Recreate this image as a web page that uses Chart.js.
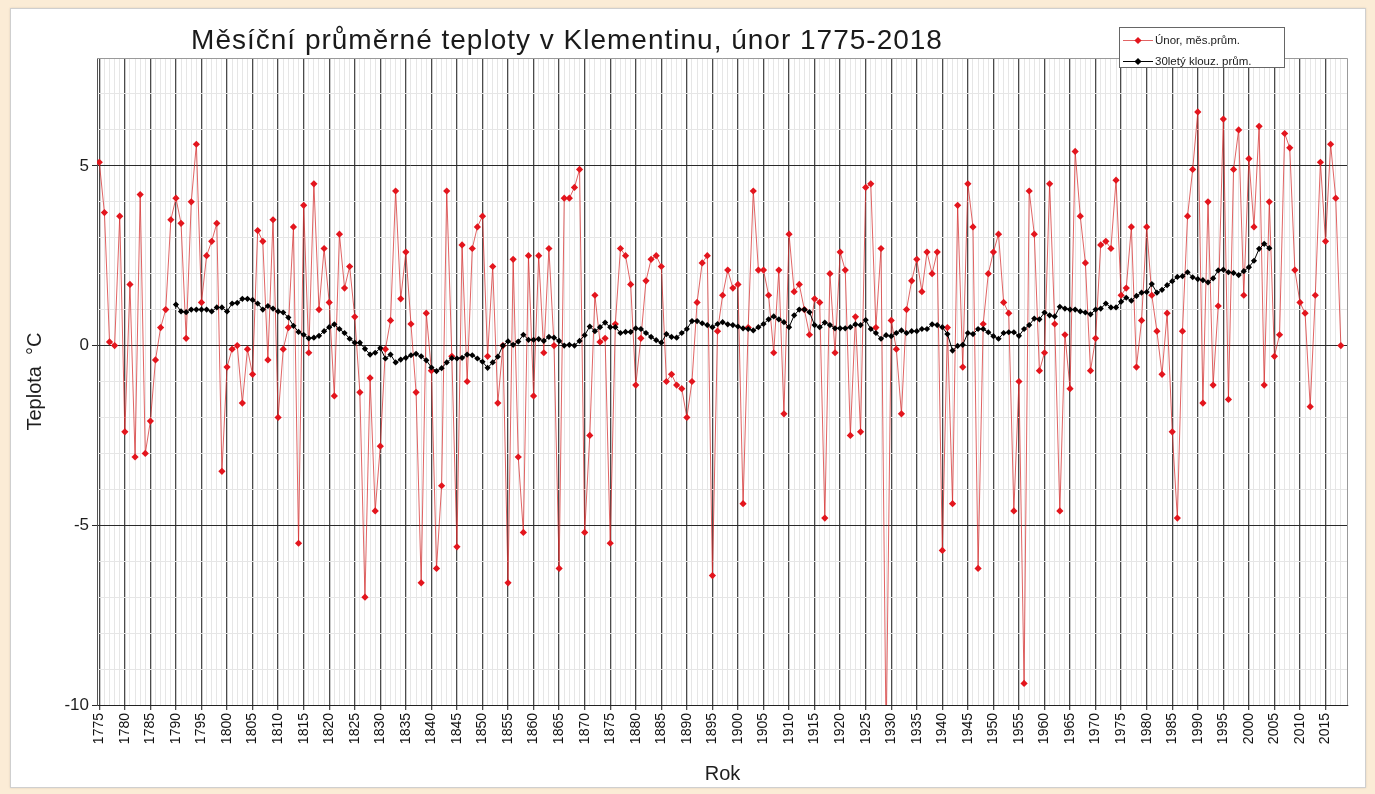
<!DOCTYPE html>
<html><head><meta charset="utf-8">
<script src="https://cdn.jsdelivr.net/npm/chart.js@4.4.1/dist/chart.umd.min.js"></script>
<style>
html,body{margin:0;padding:0;background:#fbecd6;width:1375px;height:794px;overflow:hidden}
#panel{position:absolute;left:10px;top:8px;width:1354px;height:778px;background:#fff;border:1px solid #cfcfcf;box-shadow:0 0 2px rgba(0,0,0,.12)}
#c{position:absolute;left:0;top:0}
</style></head><body>
<div id="panel"></div>
<canvas id="c" width="1375" height="794"></canvas>
<script>
const TITLE = 'Měsíční průměrné teploty v Klementinu, únor 1775-2018';
const firstYear = 1775;
const years = Array.from({length: 244}, (_, i) => firstYear + i);
// February monthly mean temperature, 1775..2018
const febTemps = [
  5.1, 3.7, 0.1, 0.0, 3.6, -2.4, 1.7, -3.1, 4.2, -3.0,
  -2.1, -0.4, 0.5, 1.0, 3.5, 4.1, 3.4, 0.2, 4.0, 5.6,
  1.2, 2.5, 2.9, 3.4, -3.5, -0.6, -0.1, 0.0, -1.6, -0.1,
  -0.8, 3.2, 2.9, -0.4, 3.5, -2.0, -0.1, 0.5, 3.3, -5.5,
  3.9, -0.2, 4.5, 1.0, 2.7, 1.2, -1.4, 3.1, 1.6, 2.2,
  0.8, -1.3, -7.0, -0.9, -4.6, -2.8, -0.1, 0.7, 4.3, 1.3,
  2.6, 0.6, -1.3, -6.6, 0.9, -0.7, -6.2, -3.9, 4.3, -0.3,
  -5.6, 2.8, -1.0, 2.7, 3.3, 3.6, -0.3, 2.2, -1.6, 0.0,
  -6.6, 2.4, -3.1, -5.2, 2.5, -1.4, 2.5, -0.2, 2.7, 0.0,
  -6.2, 4.1, 4.1, 4.4, 4.9, -5.2, -2.5, 1.4, 0.1, 0.2,
  -5.5, 0.6, 2.7, 2.5, 1.7, -1.1, 0.2, 1.8, 2.4, 2.5,
  2.2, -1.0, -0.8, -1.1, -1.2, -2.0, -1.0, 1.2, 2.3, 2.5,
  -6.4, 0.4, 1.4, 2.1, 1.6, 1.7, -4.4, 0.5, 4.3, 2.1,
  2.1, 1.4, -0.2, 2.1, -1.9, 3.1, 1.5, 1.7, 1.0, 0.3,
  1.3, 1.2, -4.8, 2.0, -0.2, 2.6, 2.1, -2.5, 0.8, -2.4,
  4.4, 4.5, 0.5, 2.7, -11.0, 0.7, -0.1, -1.9, 1.0, 1.8,
  2.4, 1.5, 2.6, 2.0, 2.6, -5.7, 0.5, -4.4, 3.9, -0.6,
  4.5, 3.3, -6.2, 0.6, 2.0, 2.6, 3.1, 1.2, 0.9, -4.6,
  -1.0, -9.4, 4.3, 3.1, -0.7, -0.2, 4.5, 0.6, -4.6, 0.3,
  -1.2, 5.4, 3.6, 2.3, -0.7, 0.2, 2.8, 2.9, 2.7, 4.6,
  1.4, 1.6, 3.3, -0.6, 0.7, 3.3, 1.4, 0.4, -0.8, 0.9,
  -2.4, -4.8, 0.4, 3.6, 4.9, 6.5, -1.6, 4.0, -1.1, 1.1,
  6.3, -1.5, 4.9, 6.0, 1.4, 5.2, 3.3, 6.1, -1.1, 4.0,
  -0.3, 0.3, 5.9, 5.5, 2.1, 1.2, 0.9, -1.7, 1.4, 5.1,
  2.9, 5.6, 4.1, 0.0
];
// 30-year running mean, 1790..2004
const maStartYear = 1790;
const maTemps = [
  1.14, 0.95, 0.93, 1.0, 1.0, 1.0, 1.0, 0.95, 1.06, 1.06,
  0.95, 1.17, 1.19, 1.3, 1.3, 1.27, 1.17, 1.0, 1.1, 1.03,
  0.95, 0.92, 0.78, 0.55, 0.38, 0.3, 0.2, 0.22, 0.27, 0.4,
  0.51, 0.59, 0.46, 0.35, 0.19, 0.08, 0.08, -0.09, -0.25, -0.2,
  -0.07, -0.36, -0.25, -0.47, -0.39, -0.34, -0.27, -0.23, -0.3, -0.41,
  -0.61, -0.71, -0.63, -0.47, -0.35, -0.36, -0.34, -0.25, -0.27, -0.36,
  -0.45, -0.62, -0.47, -0.31, 0.0, 0.12, 0.02, 0.11, 0.3, 0.16,
  0.16, 0.18, 0.13, 0.24, 0.22, 0.13, 0.0, 0.02, 0.0, 0.13,
  0.29, 0.53, 0.4, 0.51, 0.64, 0.51, 0.51, 0.35, 0.38, 0.38,
  0.48, 0.46, 0.35, 0.24, 0.15, 0.08, 0.32, 0.24, 0.22, 0.35,
  0.46, 0.68, 0.68, 0.62, 0.57, 0.51, 0.6, 0.65, 0.59, 0.57,
  0.53, 0.48, 0.46, 0.42, 0.51, 0.6, 0.73, 0.81, 0.73, 0.65,
  0.51, 0.84, 1.0, 1.0, 0.93, 0.57, 0.51, 0.64, 0.57, 0.48,
  0.48, 0.48, 0.51, 0.59, 0.57, 0.71, 0.46, 0.35, 0.19, 0.29,
  0.26, 0.35, 0.42, 0.35, 0.4, 0.4, 0.46, 0.46, 0.59, 0.57,
  0.51, 0.32, -0.14, -0.01, 0.02, 0.35, 0.32, 0.46, 0.46, 0.37,
  0.26, 0.19, 0.35, 0.37, 0.37, 0.27, 0.46, 0.57, 0.75, 0.73,
  0.92, 0.84, 0.81, 1.08, 1.03, 1.0, 1.0, 0.95, 0.92, 0.87,
  1.0, 1.03, 1.17, 1.06, 1.06, 1.22, 1.33, 1.25, 1.38, 1.47,
  1.49, 1.71, 1.47, 1.55, 1.68, 1.79, 1.91, 1.93, 2.04, 1.9,
  1.85, 1.82, 1.76, 1.87, 2.09, 2.11, 2.04, 2.02, 1.96, 2.07,
  2.18, 2.36, 2.69, 2.83, 2.71
];
const xTickLabels = ['1775','1780','1785','1790','1795','1800','1805','1810','1815','1820','1825','1830','1835','1840','1845','1850','1855','1860','1865','1870','1875','1880','1885','1890','1895','1900','1905','1910','1915','1920','1925','1930','1935','1940','1945','1950','1955','1960','1965','1970','1975','1980','1985','1990','1995','2000','2005','2010','2015'];
const yTickLabels = [-10, -5, 0, 5];
const yGridValues = [-10,-9,-8,-7,-6,-5,-4,-3,-2,-1,0,1,2,3,4,5,6,7,8];
const seriesNames = ['Únor, měs.prům.', '30letý klouz. prům.'];
const seriesColors = ['#e3151d', '#000000'];
const seriesLineColors = ['rgba(214,40,40,0.72)', '#000000'];

const FONT = '"Liberation Sans", Arial, sans-serif';

function diamond(ctx, x, y, r, color) {
  ctx.beginPath();
  ctx.moveTo(x, y - r); ctx.lineTo(x + r, y); ctx.lineTo(x, y + r); ctx.lineTo(x - r, y);
  ctx.closePath(); ctx.fillStyle = color; ctx.fill();
}

const decor = {
  id: 'decor',
  afterDraw(chart) {
    const ctx = chart.ctx, a = chart.chartArea;
    ctx.save();
    ctx.strokeStyle = '#9a9a9a'; ctx.lineWidth = 1;
    ctx.beginPath();
    ctx.moveTo(a.left, a.top + 0.5); ctx.lineTo(a.right - 0.5, a.top + 0.5); ctx.lineTo(a.right - 0.5, a.bottom);
    ctx.stroke();
    // title
    ctx.font = '28px ' + FONT;
    ctx.fillStyle = '#1a1a1a'; ctx.textAlign = 'center'; ctx.textBaseline = 'alphabetic';
    if ('letterSpacing' in ctx) ctx.letterSpacing = '1px';
    ctx.fillText(TITLE, 567, 49);
    if ('letterSpacing' in ctx) ctx.letterSpacing = '0px';
    // legend
    const lx = 1119, ly = 27, lw = 166, lh = 41;
    ctx.fillStyle = '#ffffff'; ctx.fillRect(lx, ly, lw, lh);
    ctx.strokeStyle = '#666'; ctx.strokeRect(lx + 0.5, ly + 0.5, lw - 1, lh - 1);
    const rows = [40, 61];
    ctx.font = '11.5px ' + FONT; ctx.textAlign = 'left'; ctx.textBaseline = 'middle';
    rows.forEach((ry, i) => {
      ctx.strokeStyle = seriesLineColors[i]; ctx.lineWidth = 1;
      ctx.beginPath(); ctx.moveTo(lx + 4, ry + 0.5); ctx.lineTo(lx + 34, ry + 0.5); ctx.stroke();
      diamond(ctx, lx + 19, ry + 0.5, 3.6, seriesColors[i]);
      ctx.fillStyle = '#1a1a1a';
      ctx.fillText(seriesNames[i], lx + 36, ry + 1);
    });
    ctx.restore();
  }
};

new Chart(document.getElementById('c'), {
  type: 'line',
  data: {
    datasets: [
      {
        label: seriesNames[0],
        data: years.map((yr, i) => ({x: yr, y: febTemps[i]})),
        borderColor: seriesLineColors[0], borderWidth: 1,
        pointStyle: 'rectRot', pointRadius: 3.6, pointBackgroundColor: seriesColors[0],
        pointBorderWidth: 0, tension: 0, order: 2
      },
      {
        label: seriesNames[1],
        data: maTemps.map((v, i) => ({x: maStartYear + i, y: v})),
        borderColor: seriesLineColors[1], borderWidth: 1,
        pointStyle: 'rectRot', pointRadius: 3.1, pointBackgroundColor: seriesColors[1],
        pointBorderWidth: 0, tension: 0, order: 1
      }
    ]
  },
  options: {
    responsive: false, animation: false, devicePixelRatio: 1,
    layout: {padding: {top: 58, right: 27, left: 0, bottom: 0}},
    plugins: {legend: {display: false}, tooltip: {enabled: false}, title: {display: false}},
    scales: {
      x: {
        type: 'linear', min: 1774.55, max: 2019.4,
        afterBuildTicks(s) { s.ticks = years.map(v => ({value: v})); },
        afterFit(s) { s.height = 89; },
        ticks: {
          autoSkip: false, minRotation: 90, maxRotation: 90, padding: 3,
          font: {family: FONT, size: 14}, color: '#111',
          callback: (v) => xTickLabels.includes(String(v)) ? String(v) : ''
        },
        grid: {
          color: (c) => (c.tick && c.tick.value % 5 === 0) ? '#4a4a4a' : '#e6e6e6',
          lineWidth: (c) => (c.tick && c.tick.value % 5 === 0) ? 1.3 : 1,
          tickColor: (c) => (c.tick && c.tick.value % 5 === 0) ? '#4a4a4a' : 'rgba(0,0,0,0)',
          tickLength: 5
        },
        border: {display: true, color: '#222', width: 1},
        title: {display: true, text: 'Rok', font: {family: FONT, size: 20}, color: '#1e1e1e', padding: {top: 0, bottom: 8}}
      },
      y: {
        min: -10, max: 8,
        afterBuildTicks(s) { s.ticks = yGridValues.map(v => ({value: v})); },
        afterFit(s) { s.width = 97; },
        ticks: {
          autoSkip: false, padding: 3, font: {family: FONT, size: 17}, color: '#1e1e1e',
          callback: (v) => yTickLabels.includes(v) ? String(v) : ''
        },
        grid: {
          color: (c) => (c.tick && c.tick.value % 5 === 0) ? '#2a2a2a' : '#e6e6e6',
          tickColor: (c) => (c.tick && c.tick.value % 5 === 0) ? '#2a2a2a' : 'rgba(0,0,0,0)',
          tickLength: 5
        },
        border: {display: true, color: '#555', width: 1},
        title: {display: true, text: 'Teplota  °C', font: {family: FONT, size: 20}, color: '#1e1e1e', padding: {top: 23, bottom: 0}}
      }
    }
  },
  plugins: [decor]
});
</script>
</body></html>
